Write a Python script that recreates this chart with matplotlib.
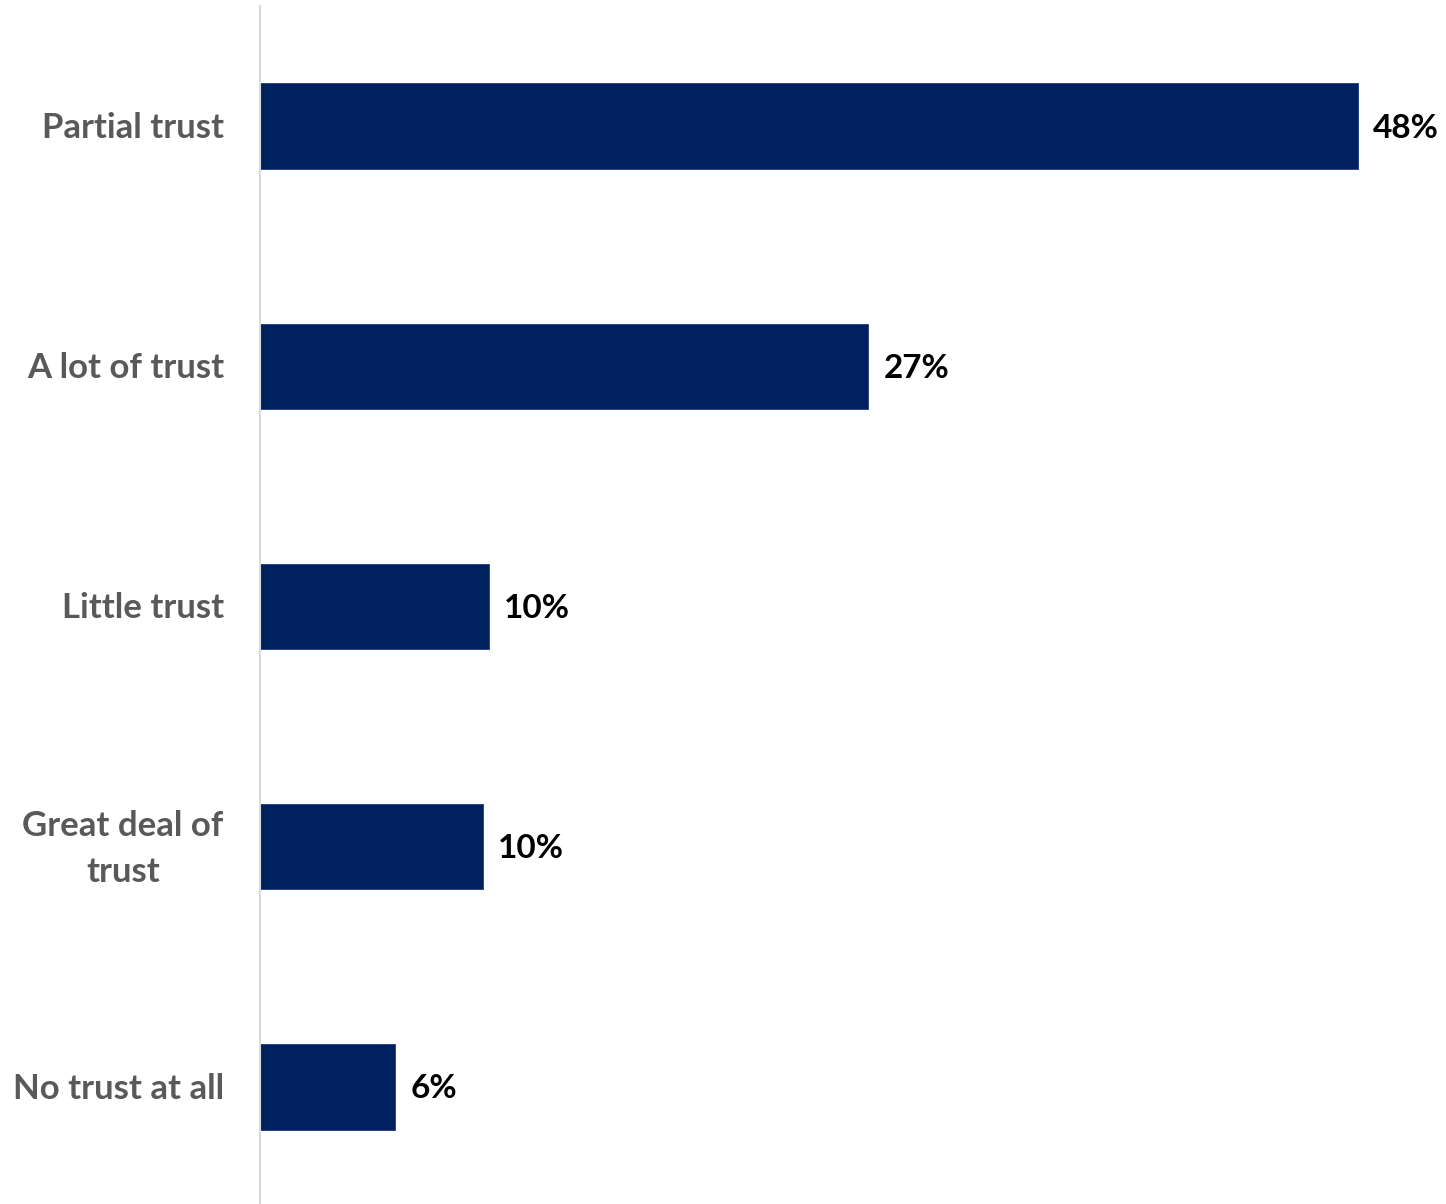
import matplotlib
matplotlib.use("Agg")
import matplotlib.pyplot as plt
from matplotlib.transforms import blended_transform_factory, offset_copy

# Survey responses on level of trust (percent of respondents)
categories = ["Partial trust", "A lot of trust", "Little trust", "Great deal of\ntrust", "No trust at all"]
values = [48.0, 26.6, 10.0, 9.75, 5.9]

BAR_COLOR = "#002060"
LABEL_COLOR = "#595959"
CAT_SIZE = 25
VAL_SIZE = 24

plt.rcParams["font.family"] = ["Lato", "DejaVu Sans"]

fig = plt.figure(figsize=(14.46, 12.04), dpi=100)
W, H = 1446, 1204
left, right = 260 / W, (260 + 50 * 22.875) / W
ax = fig.add_axes([left, -3 / H, right - left, 1201 / H])
ax_px = (right - left) * W

y = list(range(len(categories)))
ax.barh(y, values, height=0.355, color=BAR_COLOR, edgecolor="#1f3a7a", linewidth=0.6)
ax.set_xlim(0, 50)
ax.set_ylim(len(categories) - 0.5, -0.5)
ax.set_yticks([])
ax.set_xticks([])

for s in ("top", "right", "bottom"):
    ax.spines[s].set_visible(False)
ax.spines["left"].set_color("#d9d9d9")
ax.spines["left"].set_linewidth(1.5)

# Category labels to the left of the axis line (wrapped labels are centred)
trans = offset_copy(blended_transform_factory(ax.transAxes, ax.transData),
                    fig=fig, x=0, y=-2, units="dots")
for yi, cat in zip(y, categories):
    if "\n" in cat:
        ax.text(-137 / ax_px, yi, cat, transform=trans, ha="center", va="center",
                multialignment="center", fontsize=CAT_SIZE, fontweight="bold",
                color=LABEL_COLOR, linespacing=1.55)
    else:
        ax.text(-36 / ax_px, yi, cat, transform=trans, ha="right", va="center",
                fontsize=CAT_SIZE, fontweight="bold", color=LABEL_COLOR)

for yi, v in zip(y, values):
    ax.annotate(f"{v:.0f}%", xy=(v, yi), xytext=(11, -1.5), textcoords="offset points",
                ha="left", va="center", fontsize=VAL_SIZE, fontweight="bold",
                color="black", annotation_clip=False)

fig.savefig("out.png", dpi=100, facecolor="white")
